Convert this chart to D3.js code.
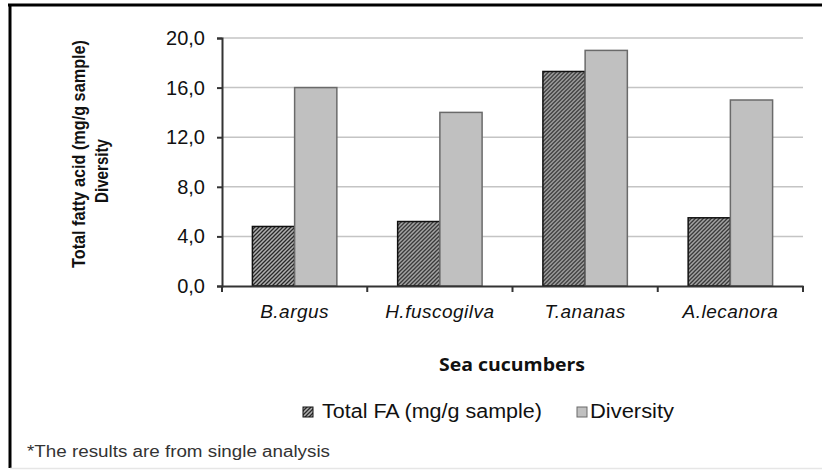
<!DOCTYPE html>
<html><head><meta charset="utf-8">
<script src="https://cdn.jsdelivr.net/npm/d3@7"></script>
<style>body{margin:0;background:#fff}svg{display:block}</style>
</head><body>
<script>
const categories = ["B.argus", "H.fuscogilva", "T.ananas", "A.lecanora"];
const totalFA = [4.8, 5.2, 17.3, 5.5];
const diversity = [16, 14, 19, 15];
const yTicks = [0, 4, 8, 12, 16, 20];
const seriesNames = ["Total FA (mg/g sample)", "Diversity"];

const W = 822, H = 470;
const FONT = "Arial, 'Liberation Sans', sans-serif";
const svg = d3.select("body").append("svg").attr("width", W).attr("height", H);
const defs = svg.append("defs");
const pat = defs.append("pattern").attr("id", "hatch").attr("patternUnits", "userSpaceOnUse")
  .attr("width", 4).attr("height", 4);
pat.append("rect").attr("width", 4).attr("height", 4).attr("fill", "#b0b0b0");
pat.append("path").attr("d", "M-1,1 l2,-2 M0,4 l4,-4 M3,5 l2,-2").attr("stroke", "#2a2a2a").attr("stroke-width", 1.3);

// frame
svg.append("line").attr("x1", 8).attr("x2", W).attr("y1", 5).attr("y2", 5).attr("stroke", "#000").attr("stroke-width", 3);
svg.append("line").attr("x1", 10).attr("x2", 10).attr("y1", 4).attr("y2", 468).attr("stroke", "#000").attr("stroke-width", 3);
svg.append("line").attr("x1", 10).attr("x2", W).attr("y1", 468.5).attr("y2", 468.5).attr("stroke", "#e6e6e6").attr("stroke-width", 1.5);

const x0 = 222, x1 = 803, yTop = 38, yBot = 286;
const x = d3.scaleBand().domain(categories).range([x0, x1]).paddingInner(0).paddingOuter(0);
const y = d3.scaleLinear().domain([0, 20]).range([yBot, yTop]);
const xs = d3.scaleBand().domain(seriesNames).range([0, x.bandwidth()]).paddingInner(0).paddingOuter(0.72);

// gridlines
svg.append("g").selectAll("line").data(yTicks.filter(d => d > 0)).join("line")
  .attr("x1", x0).attr("x2", x1).attr("y1", d => y(d)).attr("y2", d => y(d))
  .attr("stroke", "#c4c4c4").attr("stroke-width", 1.5);

const fmt = d => d.toFixed(1).replace(".", ",");
const yAxis = svg.append("g").attr("transform", `translate(${x0},0)`)
  .call(d3.axisLeft(y).tickValues(yTicks).tickFormat(fmt).tickSize(5).tickPadding(12));
yAxis.select(".domain").attr("stroke", "#333").attr("stroke-width", 2);
yAxis.selectAll(".tick line").attr("stroke", "#333").attr("stroke-width", 2);
yAxis.selectAll("text").attr("font-family", FONT).attr("font-size", 20).attr("fill", "#111");

// bars
const groups = svg.append("g").selectAll("g").data(categories).join("g")
  .attr("transform", d => `translate(${x(d)},0)`);
groups.append("rect").attr("x", xs(seriesNames[0])).attr("width", xs.bandwidth())
  .attr("y", (d, i) => y(totalFA[i])).attr("height", (d, i) => yBot - y(totalFA[i]))
  .attr("fill", "url(#hatch)").attr("stroke", "#111").attr("stroke-width", 1.5);
groups.append("rect").attr("x", xs(seriesNames[1])).attr("width", xs.bandwidth())
  .attr("y", (d, i) => y(diversity[i])).attr("height", (d, i) => yBot - y(diversity[i]))
  .attr("fill", "#c0c0c0").attr("stroke", "#6a6a6a").attr("stroke-width", 1.5);

// x axis
const xAxis = svg.append("g").attr("transform", `translate(0,${yBot})`)
  .call(d3.axisBottom(x).tickSize(0).tickPadding(19));
xAxis.select(".domain").attr("stroke", "#333").attr("stroke-width", 2);
xAxis.selectAll("text").attr("font-family", FONT).attr("font-size", 19)
  .attr("font-style", "italic").attr("letter-spacing", 0.5).attr("fill", "#111");
const bounds = categories.map(c => x(c)).concat([x1]);
xAxis.append("g").selectAll("line").data(bounds).join("line")
  .attr("x1", d => d).attr("x2", d => d).attr("y1", 0).attr("y2", 6)
  .attr("stroke", "#333").attr("stroke-width", 2);

// axis titles
svg.append("text").attr("transform", "translate(85,154) rotate(-90)").attr("text-anchor", "middle")
  .attr("font-family", FONT).attr("font-weight", "bold").attr("font-size", 18)
  .attr("textLength", 228).attr("lengthAdjust", "spacingAndGlyphs")
  .attr("fill", "#111").text("Total fatty acid (mg/g sample)");
svg.append("text").attr("transform", "translate(108,171) rotate(-90)").attr("text-anchor", "middle")
  .attr("font-family", FONT).attr("font-weight", "bold").attr("font-size", 18)
  .attr("textLength", 64).attr("lengthAdjust", "spacingAndGlyphs")
  .attr("fill", "#111").text("Diversity");
svg.append("text").attr("x", 512).attr("y", 371).attr("text-anchor", "middle")
  .attr("font-family", "'Open Sans', sans-serif").attr("font-weight", "bold").attr("font-size", 18)
  .attr("textLength", 146).attr("lengthAdjust", "spacingAndGlyphs")
  .attr("fill", "#111").text("Sea cucumbers");

// legend
const leg = [{n: seriesNames[0], x: 303, w: 220, fill: "url(#hatch)", stroke: "#111"},
             {n: seriesNames[1], x: 577, w: 84, fill: "#c0c0c0", stroke: "#6a6a6a"}];
const lg = svg.append("g").selectAll("g").data(leg).join("g").attr("transform", d => `translate(${d.x},407)`);
lg.append("rect").attr("width", 10).attr("height", 10).attr("fill", d => d.fill).attr("stroke", d => d.stroke).attr("stroke-width", 1);
lg.append("text").attr("x", d => d.n === seriesNames[0] ? 19 : 13).attr("y", 11).attr("font-family", FONT)
  .attr("font-size", 20).attr("textLength", d => d.w).attr("lengthAdjust", "spacingAndGlyphs")
  .attr("fill", "#111").text(d => d.n);

svg.append("text").attr("x", 27).attr("y", 457).attr("font-family", FONT)
  .attr("font-size", 16).attr("textLength", 303).attr("lengthAdjust", "spacingAndGlyphs")
  .attr("fill", "#333").text("*The results are from single analysis");
</script>
</body></html>
